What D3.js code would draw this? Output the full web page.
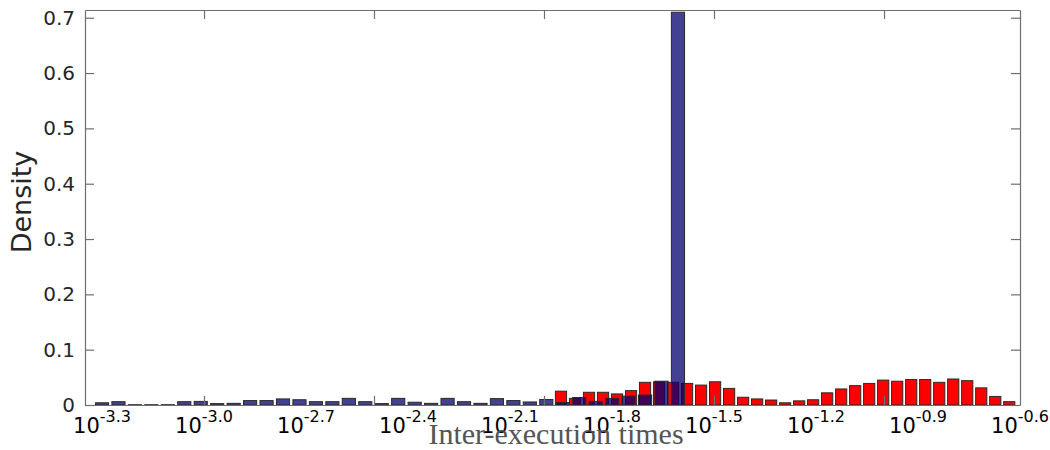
<!DOCTYPE html>
<html>
<head>
<meta charset="utf-8">
<script src="https://cdn.jsdelivr.net/npm/d3@7"></script>
<style>
  body { margin: 0; background: #fff; }
  svg { display: block; }
  .axis path, .axis line { stroke: #6e6e6e; stroke-width: 1.2; }
  .axis text { font-family: "DejaVu Sans", sans-serif; font-size: 20px; fill: #262626; }
</style>
</head>
<body>
<div id="chart"></div>
<script>
// histogram bins, in log10 of the inter-execution time
const blueStart = -3.30;
const blueStep = 0.0484;
const blueValues = [
  0.004, 0.006, 0.0005, 0.0005, 0.0005, 0.006, 0.0065, 0.0025, 0.003, 0.008,
  0.008, 0.011, 0.0095, 0.006, 0.006, 0.012, 0.006, 0.0025, 0.012, 0.005,
  0.003, 0.012, 0.006, 0.003, 0.0115, 0.008, 0.0055, 0.010, 0.0045, 0.0135,
  0.0065, 0.012, 0.016, 0.018, 0.043, 0.710
];

const redStart = -1.950;
const redStep = 0.0412;
const redValues = [
  0.025, 0.012, 0.023, 0.023, 0.020, 0.026, 0.041, 0.042, 0.041, 0.039,
  0.036, 0.042, 0.030, 0.014, 0.011, 0.009, 0.004, 0.0075, 0.0095, 0.022,
  0.029, 0.035, 0.039, 0.045, 0.043, 0.046, 0.046, 0.041, 0.047, 0.044,
  0.031, 0.0155, 0.006
];

const xTicks = [-3.0, -2.5, -2.0, -1.5, -1.0];
const xLabels = ['-3.3', '-3.0', '-2.7', '-2.4', '-2.1', '-1.8', '-1.5', '-1.2', '-0.9', '-0.6'];
const yTicks = [0, 0.1, 0.2, 0.3, 0.4, 0.5, 0.6, 0.7];

const W = 1050, H = 450;
const plot = { left: 85, right: 1020, top: 10, bottom: 405 };

const x = d3.scaleLinear().domain([-3.35, -0.6]).range([plot.left, plot.right]);
const y = d3.scaleLinear().domain([0, 0.714]).range([plot.bottom, plot.top]);

const svg = d3.select('#chart').append('svg')
  .attr('width', W)
  .attr('height', H);

function drawBars(values, start, step, cls, fill, opacity) {
  const bw = (x(start + step) - x(start)) * 0.8;
  svg.append('g').attr('class', cls)
    .selectAll('rect')
    .data(values)
    .join('rect')
      .attr('x', (d, i) => x(start + i * step) - bw / 2)
      .attr('y', d => y(d))
      .attr('width', bw)
      .attr('height', d => y(0) - y(d))
      .attr('fill', fill)
      .attr('fill-opacity', opacity)
      .attr('stroke', '#2a2a2a')
      .attr('stroke-width', 1);
}

drawBars(redValues, redStart, redStep, 'red', '#ff0000', 1);
drawBars(blueValues, blueStart, blueStep, 'blue', 'rgb(5,0,110)', 0.75);

// box + inward ticks
svg.append('g').attr('class', 'axis')
  .attr('transform', `translate(0,${plot.bottom})`)
  .call(d3.axisBottom(x).tickValues(xTicks).tickSize(-9).tickSizeOuter(0).tickFormat(''));

svg.append('g').attr('class', 'axis')
  .attr('transform', `translate(0,${plot.top})`)
  .call(d3.axisTop(x).tickValues(xTicks).tickSize(-9).tickSizeOuter(0).tickFormat(''));

svg.append('g').attr('class', 'axis')
  .attr('transform', `translate(${plot.left},0)`)
  .call(d3.axisLeft(y).tickValues(yTicks).tickSize(-9).tickSizeOuter(0).tickPadding(10)
    .tickFormat(d => d === 0 ? '0' : d.toFixed(1)));

svg.append('g').attr('class', 'axis')
  .attr('transform', `translate(${plot.right},0)`)
  .call(d3.axisRight(y).tickValues(yTicks).tickSize(-9).tickSizeOuter(0).tickFormat(''));

// 10^e labels placed by hand, like the original
const lab = svg.append('g')
  .attr('font-family', '"DejaVu Sans", sans-serif')
  .attr('fill', '#000');

xLabels.forEach(s => {
  const t = lab.append('text')
    .attr('x', x(+s))
    .attr('y', 433)
    .attr('text-anchor', 'middle');
  t.append('tspan').attr('font-size', 21).text('10');
  t.append('tspan').attr('font-size', 16).attr('dy', -11).text(s);
});

svg.append('text')
  .attr('x', 556)
  .attr('y', 444)
  .attr('text-anchor', 'middle')
  .attr('font-family', '"Liberation Serif", serif')
  .attr('font-size', 30)
  .attr('fill', '#555')
  .text('Inter-execution times');

svg.append('text')
  .attr('transform', 'translate(31,202) rotate(-90)')
  .attr('text-anchor', 'middle')
  .attr('font-family', '"DejaVu Sans", sans-serif')
  .attr('font-size', 27)
  .attr('fill', '#262626')
  .text('Density');
</script>
</body>
</html>
